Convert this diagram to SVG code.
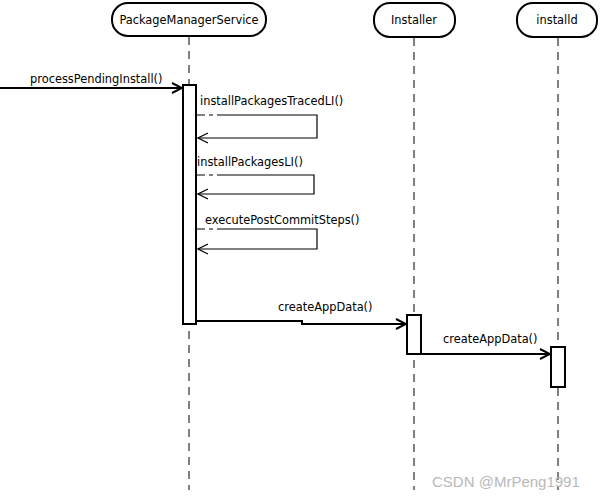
<svg xmlns="http://www.w3.org/2000/svg" width="600" height="500" viewBox="0 0 600 500">
<defs>
<style>
text{font-family:"DejaVu Sans","Liberation Sans",sans-serif;font-size:11.4px;fill:#000}
.head{fill:#fff;stroke:#000;stroke-width:2}
.life{stroke:#000;stroke-width:1;stroke-dasharray:8,6;fill:none}
.act{fill:#fff;stroke:#000;stroke-width:2}
.msg{stroke:#000;stroke-width:2;fill:none}
.self{stroke:#000;stroke-width:1.2;fill:none}
.wm{font-family:"Liberation Sans",sans-serif;font-size:15px;fill:#b8b8b8}
</style>
<marker id="arr" viewBox="0 0 12 12" refX="11" refY="6" markerWidth="12" markerHeight="12" markerUnits="userSpaceOnUse" orient="auto">
<path d="M1,1 L11,6 L1,11" fill="none" stroke="#000" stroke-width="2"/>
</marker>
<marker id="arrs" viewBox="0 0 12 12" refX="11" refY="6" markerWidth="12" markerHeight="12" markerUnits="userSpaceOnUse" orient="auto">
<path d="M1,1 L11,6 L1,11" fill="none" stroke="#000" stroke-width="1.2"/>
</marker>
</defs>
<g id="lifelines">
<line class="life" x1="189" y1="37" x2="189" y2="490"/>
<line class="life" x1="414" y1="38" x2="414" y2="490"/>
<line class="life" x1="558" y1="38" x2="558" y2="490"/>
</g>
<g id="pms">
<rect class="head" x="112" y="3" width="154" height="33" rx="16"/>
<text x="189" y="24" text-anchor="middle">PackageManagerService</text>
<rect class="act" x="183" y="85" width="13" height="239"/>
</g>
<g id="installer">
<rect class="head" x="374" y="3" width="81" height="34" rx="16"/>
<text x="414" y="24" text-anchor="middle">Installer</text>
<rect class="act" x="407" y="315" width="14" height="39"/>
</g>
<g id="installd">
<rect class="head" x="517" y="3" width="80" height="34" rx="16"/>
<text x="557" y="24" text-anchor="middle">installd</text>
<rect class="act" x="551" y="347" width="14" height="40"/>
</g>
<g id="connectors">
<line class="msg" x1="0" y1="88" x2="182" y2="88" marker-end="url(#arr)"/>
<text x="30" y="83">processPendingInstall()</text>
<path class="self" d="M197,115 H205 M209,115 H213"/>
<path class="self" d="M217,115 H317 V138 H198" marker-end="url(#arrs)"/>
<text x="200" y="105">installPackagesTracedLI()</text>
<path class="self" d="M197,175 H205 M209,175 H213"/>
<path class="self" d="M217,175 H314 V194 H198" marker-end="url(#arrs)"/>
<text x="197" y="166">installPackagesLI()</text>
<path class="self" d="M197,229 H205 M209,229 H213"/>
<path class="self" d="M217,229 H317 V249 H198" marker-end="url(#arrs)"/>
<text x="205" y="224">executePostCommitSteps()</text>
<path class="msg" d="M196,321 H302 V324 H406" marker-end="url(#arr)"/>
<text x="278" y="311">createAppData()</text>
<line class="msg" x1="421" y1="354" x2="550" y2="354" marker-end="url(#arr)"/>
<text x="443" y="343">createAppData()</text>
</g>
<text class="wm" x="432" y="487">CSDN @MrPeng1991</text>
</svg>
